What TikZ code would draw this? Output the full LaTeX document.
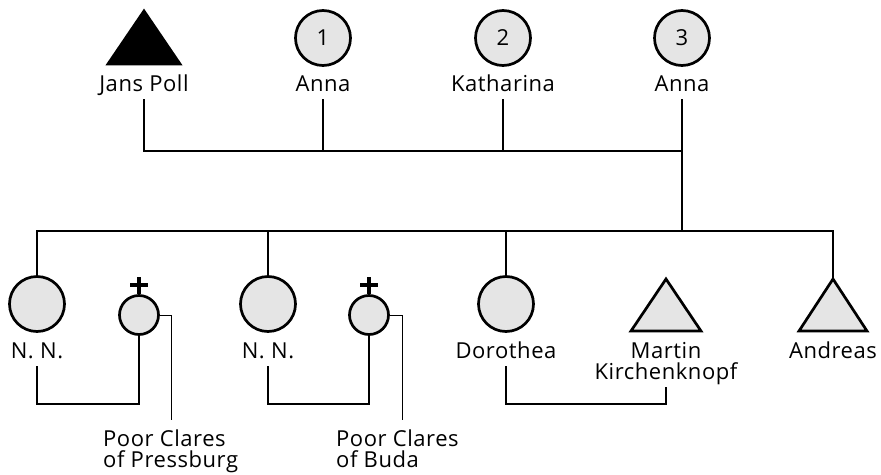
\documentclass[tikz,border=0pt]{standalone}
\usepackage{fontspec}
\setmainfont[LetterSpace=2.5]{Open Sans}
\begin{document}
\begin{tikzpicture}[x=1pt,y=-1pt,
  person/.style={circle,draw,line width=2.7pt,fill=black!10,inner sep=0pt,minimum size=55pt,
                 font=\fontsize{22}{24}\selectfont},
  nun/.style={circle,draw,line width=2.7pt,fill=black!10,inner sep=0pt,minimum size=39pt},
  male/.style={draw,line width=2.7pt,line join=miter,fill=black!10},
  lbl/.style={font=\fontsize{22}{22}\selectfont,anchor=base,inner xsep=0pt,inner ysep=3pt,text depth=5pt},
  memo/.style={font=\fontsize{22}{22}\selectfont,anchor=base west,inner sep=0pt},
  rel/.style={line width=2.7pt},
  lead/.style={line width=1pt},
  cross/.style={line width=3.6pt}]
\useasboundingbox (0,0) rectangle (881,474);

% ---------- parents ----------
\coordinate (jp) at (144,37);
\path[draw,line width=2.7pt,line join=miter,fill=black] (144,11) -- (180,64) -- (108,64) -- cycle;
\node[person] (w1) at (323,38) {1};
\node[person] (w2) at (503,38) {2};
\node[person] (w3) at (682,38) {3};

\node[lbl] (jpl) at (144,91) {Jans Poll};
\node[lbl] (w1l) at (323,91) {Anna};
\node[lbl] (w2l) at (503,91) {Katharina};
\node[lbl] (w3l) at (682,91) {Anna};

% marriage bar
\coordinate (bar) at (0,151);
\draw[rel] (jpl.south) -- (jpl.south |- bar) -- (w3l.south |- bar);
\draw[rel] (w1l.south) -- (w1l.south |- bar);
\draw[rel] (w2l.south) -- (w2l.south |- bar);

% ---------- children ----------
\node[person] (c1) at (37,304) {};
\node[person] (c2) at (268,304) {};
\node[person] (c3) at (506,304) {};
\coordinate (mk) at (666,279);
\path[male] (666,279) -- (701,331) -- (631,331) -- cycle;
\coordinate (an) at (833,279);
\path[male] (833,279) -- (867,331) -- (799,331) -- cycle;

\node[lbl] (c1l) at (37,358) {N. N.};
\node[lbl] (c2l) at (268,358) {N. N.};
\node[lbl] (c3l) at (506,358) {Dorothea};
\node[lbl] (mkl) at (666,358) {Martin};
\node[lbl] (mkl2) at (666,379) {Kirchenknopf};
\node[lbl] (anl) at (833,358) {Andreas};

% sibling bar
\coordinate (sib) at (0,231);
\draw[rel] (w3l.south) -- (w3l.south |- sib);
\draw[rel] (c1.north) -- (c1.north |- sib) -- (an |- sib) -- (an);
\draw[rel] (c2.north) -- (c2.north |- sib);
\draw[rel] (c3.north) -- (c3.north |- sib);

% ---------- nuns ----------
\node[nun] (n1) at (139,315) {};
\node[nun] (n2) at (369,315) {};
\draw[cross] (n1.north) -- ++(0,-17);
\draw[cross] ([xshift=-9pt]n1.north |- 0,285) -- ([xshift=9pt]n1.north |- 0,285);
\draw[cross] (n2.north) -- ++(0,-17);
\draw[cross] ([xshift=-9pt]n2.north |- 0,285) -- ([xshift=9pt]n2.north |- 0,285);

\coordinate (low) at (0,404);
\draw[rel] (c1l.south) -- (c1l.south |- low) -- (n1.south |- low) -- (n1.south);
\draw[rel] (c2l.south) -- (c2l.south |- low) -- (n2.south |- low) -- (n2.south);
\draw[rel] (c3l.south) -- (c3l.south |- low) -- (mkl2.south |- low) -- (mkl2.south);

% convent notes
\node[memo] (p1a) at (103,446) {Poor Clares};
\node[memo] (p1b) at (103,467) {of Pressburg};
\node[memo] (p2a) at (336,446) {Poor Clares};
\node[memo] (p2b) at (336,467) {of Buda};
\coordinate (p1end) at (171,420);
\coordinate (p2end) at (402,420);
\draw[lead] (n1.east) -- (n1.east -| p1end) -- (p1end);
\draw[lead] (n2.east) -- (n2.east -| p2end) -- (p2end);
\end{tikzpicture}
\end{document}
